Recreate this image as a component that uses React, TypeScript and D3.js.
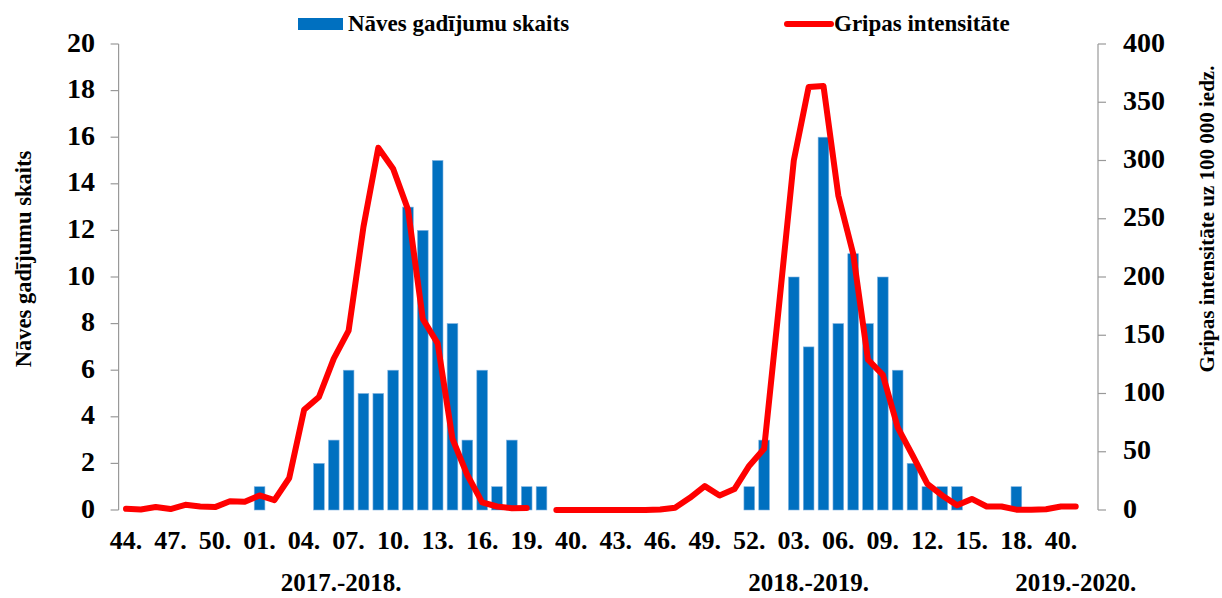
import { useEffect, useRef } from "react";
import * as d3 from "d3";

// week labels per season (x categories)
const weeks1718 = ["44.", "45.", "46.", "47.", "48.", "49.", "50.", "51.", "52.", "01.", "02.", "03.", "04.", "05.", "06.", "07.", "08.", "09.", "10.", "11.", "12.", "13.", "14.", "15.", "16.", "17.", "18.", "19.", "20.", "21."];
const weeks1819 = ["40.", "41.", "42.", "43.", "44.", "45.", "46.", "47.", "48.", "49.", "50.", "51.", "52.", "01.", "02.", "03.", "04.", "05.", "06.", "07.", "08.", "09.", "10.", "11.", "12.", "13.", "14.", "15.", "16.", "17.", "18.", "19.", "20."];
const weeks1920 = ["40.", "41.", "42."];
const seasons = ["2017.-2018.", "2018.-2019.", "2019.-2020."];

// Nāves gadījumu skaits
const deaths1718 = [0, 0, 0, 0, 0, 0, 0, 0, 0, 1, 0, 0, 0, 2, 3, 6, 5, 5, 6, 13, 12, 15, 8, 3, 6, 1, 3, 1, 1, 0];
const deaths1819 = [0, 0, 0, 0, 0, 0, 0, 0, 0, 0, 0, 0, 1, 3, 0, 10, 7, 16, 8, 11, 8, 10, 6, 2, 1, 1, 1, 0, 0, 0, 1, 0, 0];
const deaths1920 = [0, 0, 0];

// Gripas intensitāte uz 100 000 iedz.
const flu1718 = [1, 0.5, 2.5, 0.8, 4.5, 3, 2.5, 7.5, 7, 12.5, 8.5, 27.5, 86, 97, 130, 154, 243, 311, 293, 258, 164, 143, 61, 30, 6.5, 3, 1.5, 1.7, null, 0];
const flu1819 = [0, 0, 0, 0, 0, 0, 0.5, 2, 10.5, 20.5, 12.5, 18, 38, 52.5, 175, 300, 363, 364, 270, 220, 129, 116, 71, 47, 22.5, 12.5, 4, 9.5, 3, 3, 0.3, 0.3, 0.7];
const flu1920 = [3, 3, null];

const leftTicks = [0, 2, 4, 6, 8, 10, 12, 14, 16, 18, 20];
const rightTicks = [0, 50, 100, 150, 200, 250, 300, 350, 400];

const W = 1222;
const H = 598;
const FONT = "'Liberation Serif', 'Times New Roman', serif";

export default function App() {
  const ref = useRef<SVGSVGElement>(null);

  useEffect(() => {
    const svg = d3.select(ref.current);
    svg.selectAll("*").remove();

    const weeks = [...weeks1718, ...weeks1819, ...weeks1920];
    const deaths = [...deaths1718, ...deaths1819, ...deaths1920];
    const flu = [...flu1718, ...flu1819, ...flu1920];
    const groups = [weeks1718.length, weeks1819.length, weeks1920.length];
    const idx = weeks.map((_, i) => i);

    const left = 118.6, right = 1098, top = 44, bottom = 510;

    const x = d3.scaleBand<number>()
      .domain(idx)
      .range([left, right])
      .paddingInner(0.28)
      .paddingOuter(0.14);
    const cx = (i: number) => (x(i) as number) + x.bandwidth() / 2;

    const yL = d3.scaleLinear().domain([0, 20]).range([bottom, top]);
    const yR = d3.scaleLinear().domain([0, 400]).range([bottom, top]);

    const g = svg.append("g").style("font-family", FONT).style("font-weight", "bold");

    // bars
    g.append("g")
      .selectAll("rect")
      .data(idx.filter(i => deaths[i] > 0))
      .join("rect")
      .attr("x", i => x(i) as number)
      .attr("width", x.bandwidth())
      .attr("y", i => yL(deaths[i]))
      .attr("height", i => bottom - yL(deaths[i]))
      .attr("fill", "#0070C0")
      .attr("stroke", "#7fb2e0")
      .attr("stroke-width", 0.6);

    // line
    const line = d3.line<number>()
      .defined(i => flu[i] != null)
      .x(i => cx(i))
      .y(i => yR(flu[i] as number));

    g.append("path")
      .datum(idx)
      .attr("d", line)
      .attr("fill", "none")
      .attr("stroke", "#FF0000")
      .attr("stroke-width", 6)
      .attr("stroke-linejoin", "round")
      .attr("stroke-linecap", "round");

    // left axis
    const axisColor = "#999999";
    g.append("line")
      .attr("x1", left).attr("x2", left).attr("y1", top).attr("y2", bottom)
      .attr("stroke", axisColor).attr("stroke-width", 1.2);
    leftTicks.forEach(t => {
      g.append("line")
        .attr("x1", left - 8).attr("x2", left).attr("y1", yL(t)).attr("y2", yL(t))
        .attr("stroke", axisColor).attr("stroke-width", 1.2);
      g.append("text")
        .attr("x", 95).attr("y", yL(t) + 7.5)
        .attr("text-anchor", "end")
        .style("font-size", "28px")
        .text(t);
    });

    // right axis
    g.append("line")
      .attr("x1", right).attr("x2", right).attr("y1", top).attr("y2", bottom)
      .attr("stroke", axisColor).attr("stroke-width", 1.2);
    rightTicks.forEach(t => {
      g.append("line")
        .attr("x1", right).attr("x2", right + 8).attr("y1", yR(t)).attr("y2", yR(t))
        .attr("stroke", axisColor).attr("stroke-width", 1.2);
      g.append("text")
        .attr("x", 1123).attr("y", yR(t) + 7.5)
        .attr("text-anchor", "start")
        .style("font-size", "28px")
        .text(t);
    });

    // x labels, every third week
    g.append("g")
      .selectAll("text")
      .data(idx.filter(i => i % 3 === 0))
      .join("text")
      .attr("x", i => cx(i))
      .attr("y", 549)
      .attr("text-anchor", "middle")
      .style("font-size", "26px")
      .text(i => weeks[i]);

    // season labels centred under each group
    let start = 0;
    groups.forEach((n, k) => {
      const mid = (cx(start) + cx(start + n - 1)) / 2;
      g.append("text")
        .attr("x", mid)
        .attr("y", 591)
        .attr("text-anchor", "middle")
        .style("font-size", "25px")
        .text(seasons[k]);
      start += n;
    });

    // axis titles
    g.append("text")
      .attr("transform", "translate(23, 259) rotate(-90)")
      .attr("text-anchor", "middle")
      .attr("dominant-baseline", "central")
      .style("font-size", "22.5px")
      .text("Nāves gadījumu skaits");
    g.append("text")
      .attr("transform", "translate(1207, 219) rotate(-90)")
      .attr("text-anchor", "middle")
      .attr("dominant-baseline", "central")
      .style("font-size", "21px")
      .text("Gripas intensitāte uz 100 000 iedz.");

    // legend
    g.append("rect")
      .attr("x", 298).attr("y", 18).attr("width", 45).attr("height", 12)
      .attr("fill", "#0070C0");
    g.append("text")
      .attr("x", 348).attr("y", 31)
      .style("font-size", "23px")
      .text("Nāves gadījumu skaits");
    g.append("line")
      .attr("x1", 787).attr("x2", 831).attr("y1", 24).attr("y2", 24)
      .attr("stroke", "#FF0000").attr("stroke-width", 6).attr("stroke-linecap", "round");
    g.append("text")
      .attr("x", 834).attr("y", 31)
      .style("font-size", "23px")
      .text("Gripas intensitāte");
  }, []);

  return (
    <div style={{ position: "absolute", left: 0, top: 0, width: W, height: H, background: "#fff" }}>
      <svg ref={ref} width={W} height={H} />
    </div>
  );
}
